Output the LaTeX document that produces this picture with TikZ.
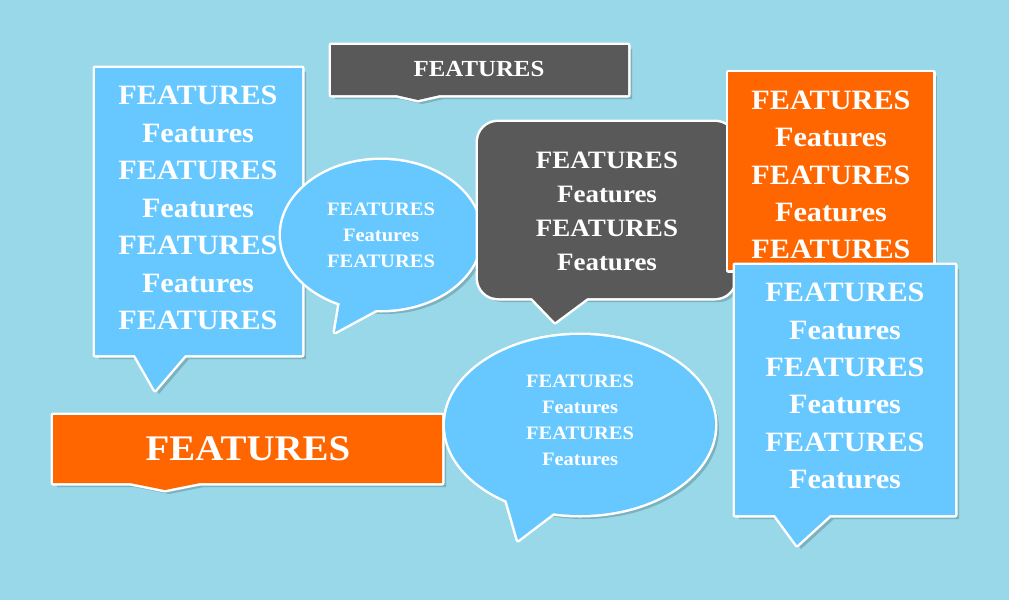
\documentclass[tikz,border=0pt]{standalone}
\usepackage{fontspec}
\setmainfont{Liberation Serif}[FakeStretch=1.08]
\begin{document}
\begin{tikzpicture}[x=1pt,y=-1pt,
  bub/.style={draw=white,line width=5pt,line join=round},
  shd/.style={fill=black,opacity=0.18},
  txt/.style={text=white,font=\bfseries,align=center,inner sep=0pt}]
\definecolor{bg}{RGB}{152,216,232}
\definecolor{cblue}{RGB}{102,200,255}
\definecolor{cdark}{RGB}{89,89,89}
\definecolor{corange}{RGB}{255,102,0}
\fill[bg] (0,0) rectangle (1009,600);
\useasboundingbox (0,0) rectangle (1009,600);
\def\pA{(95,68) -- (302,68) -- (302,355) -- (185,355) -- (155,390) -- (135,355) -- (95,355) -- cycle}
\def\pB{(331,45) -- (628,45) -- (628,95) -- (440,95) -- (418,100) -- (396,95) -- (331,95) -- cycle}
\def\pDtail{(530,296) -- (555,322) -- (590,296) -- cycle}
\def\pE{(728,72) rectangle (933,270)}
\def\pF{(735,265) -- (955,265) -- (955,515) -- (830,515) -- (797,545) -- (775,515) -- (735,515) -- cycle}
\def\pG{(53,415) -- (442,415) -- (442,483) -- (200,483) -- (165,490) -- (130,483) -- (53,483) -- cycle}
% A
\fill[shd] [shift={(4,4)}] \pA;
\draw[bub,fill=cblue] \pA; \fill[cblue] \pA;
% B
\fill[shd] [shift={(4,4)}] \pB;
\draw[bub,fill=cdark] \pB; \fill[cdark] \pB;
% G
\fill[shd] [shift={(4,4)}] \pG;
\draw[bub,fill=corange] \pG; \fill[corange] \pG;
% C ellipse
\fill[shd] (385,239) ellipse (100 and 75);
\draw[bub,fill=cblue] (381,235) ellipse (100 and 75);
\draw[bub,fill=cblue] (342,290) -- (335,332) -- (385,305) -- cycle;
\fill[cblue] (381,235) ellipse (100 and 75);
\fill[cblue] (342,290) -- (335,332) -- (385,305) -- cycle;
% D dark rounded
\fill[shd] (482,126) [rounded corners=20] rectangle (739,302);
\draw[bub,fill=cdark] (478,122) [rounded corners=20] rectangle (735,298);
\draw[bub,fill=cdark] \pDtail;
\fill[cdark] (478,122) [rounded corners=20] rectangle (735,298);
\fill[cdark] \pDtail;
% E orange
\fill[shd] [shift={(4,4)}] \pE;
\draw[bub,fill=corange] \pE; \fill[corange] \pE;
% F blue
\fill[shd] [shift={(4,4)}] \pF;
\draw[bub,fill=cblue] \pF; \fill[cblue] \pF;
% H ellipse
\fill[shd] (584,429) ellipse (135 and 90);
\draw[bub,fill=cblue] (580,425) ellipse (135 and 90);
\draw[bub,fill=cblue] (505,495) -- (518,540) -- (560,508) -- cycle;
\fill[cblue] (580,425) ellipse (135 and 90);
\fill[cblue] (505,495) -- (518,540) -- (560,508) -- cycle;
% texts
\node[txt,font=\bfseries\fontsize{28}{37.5}\selectfont] (ta) at (198,208) {FEATURES\\Features\\FEATURES\\Features\\FEATURES\\Features\\FEATURES};
\node[txt,font=\bfseries\fontsize{23}{26}\selectfont] (tb) at (479,69) {FEATURES};
\node[txt,font=\bfseries\fontsize{19}{26}\selectfont] (tc) at (381,235) {FEATURES\\Features\\FEATURES};
\node[txt,font=\bfseries\fontsize{25}{34}\selectfont] (td) at (607,211) {FEATURES\\Features\\FEATURES\\Features};
\node[txt,font=\bfseries\fontsize{28}{37.3}\selectfont] (te) at (831,175) {FEATURES\\Features\\FEATURES\\Features\\FEATURES};
\node[txt,font=\bfseries\fontsize{28}{37.4}\selectfont] (tf) at (845,386) {FEATURES\\Features\\FEATURES\\Features\\FEATURES\\Features};
\node[txt,font=\bfseries\fontsize{36}{40}\selectfont] (tg) at (248,449) {FEATURES};
\node[txt,font=\bfseries\fontsize{19}{26}\selectfont] (th) at (580,420) {FEATURES\\Features\\FEATURES\\Features};
\end{tikzpicture}
\end{document}
